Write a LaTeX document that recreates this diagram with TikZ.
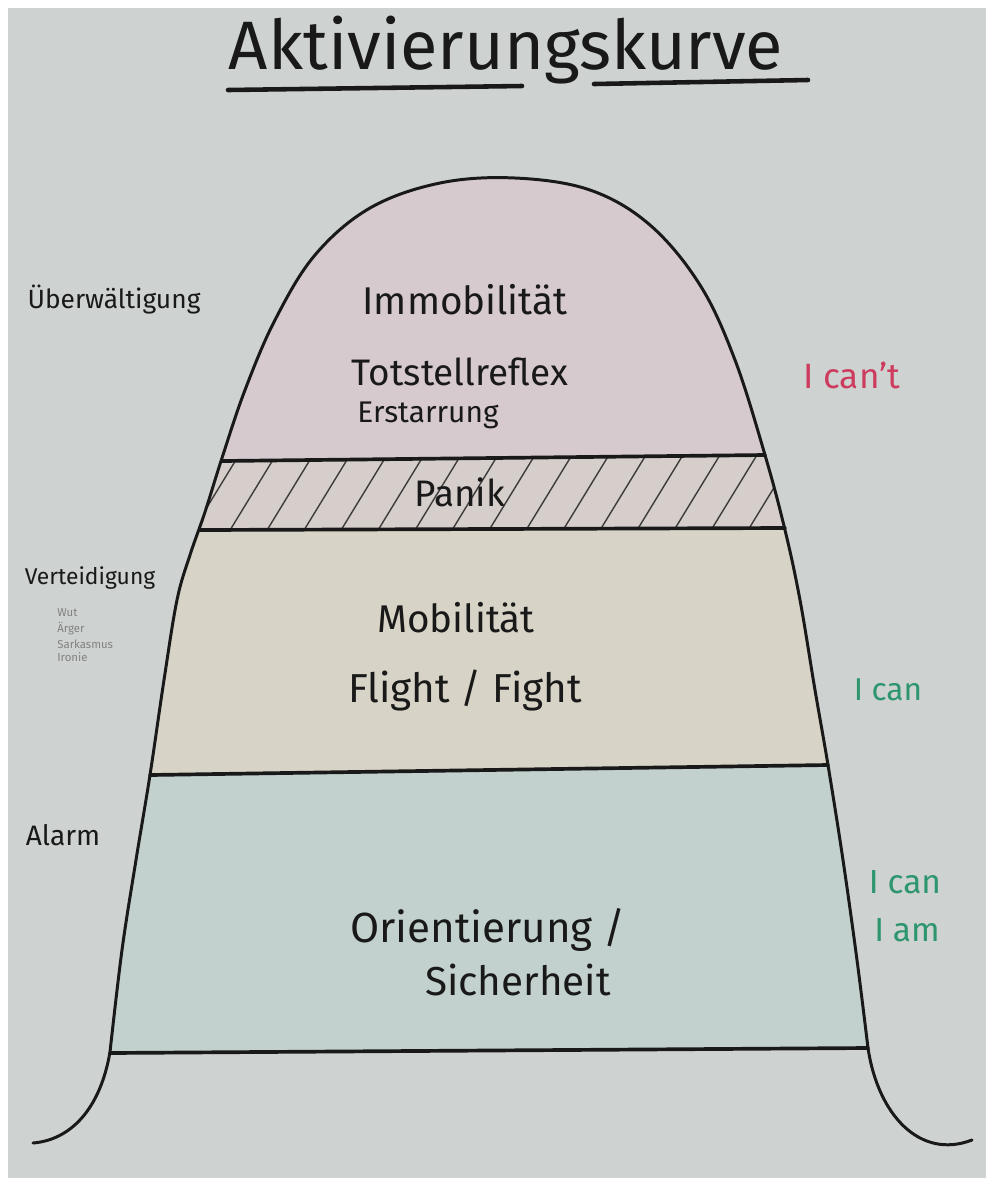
\documentclass[tikz,border=0pt]{standalone}
\usepackage{fontspec}
\setmainfont{Fira Sans}
\definecolor{paper}{RGB}{206,210,209}
\definecolor{pinkfill}{RGB}{214,202,206}
\definecolor{yellowfill}{RGB}{215,211,198}
\definecolor{greenfill}{RGB}{194,209,205}
\definecolor{panikfill}{RGB}{213,206,203}
\definecolor{ink}{RGB}{25,25,25}
\definecolor{redink}{RGB}{205,60,95}
\definecolor{greenink}{RGB}{45,150,110}
\newcommand\fs[1]{\fontsize{#1}{#1}\selectfont}
\newcommand\bellpath{plot[smooth,tension=0.6] coordinates {(110,1052) (122,950) (136,860) (150,775) (164,680) (177,600) (190,555) (205,512) (222,458) (245,390) (275,320) (315,255) (370,208) (440,183) (515,178) (590,190) (650,225) (700,285) (735,360) (765,455) (785,530) (800,600) (815,690) (828,765) (843,860) (857,960) (868,1048)}}
\tikzset{
  outline/.style={draw=ink, line width=1.7pt, line cap=round, line join=round},
  divider/.style={draw=ink, line width=2.1pt, line cap=round},
  hatch/.style={draw=ink!85, line width=0.8pt},
  lbl/.style={text=ink, inner sep=0pt, anchor=center},
}
\begin{document}
\begin{tikzpicture}[x=0.02cm, y=-0.02cm]
\useasboundingbox (0,0) rectangle (986,1178);
\fill[white] (0,0) rectangle (986,1178);
\fill[paper] (8,8) rectangle (986,1178);

% fills inside bell
\begin{scope}
  \clip \bellpath -- cycle;
  \fill[pinkfill] (0,0) -- (986,0) -- (986,455) -- (0,461) -- cycle;
  \fill[panikfill] (0,461) -- (986,455) -- (986,528) -- (0,530) -- cycle;
  \fill[yellowfill] (0,530) -- (986,528) -- (986,765) -- (0,775) -- cycle;
  \fill[greenfill] (0,775) -- (986,765) -- (986,1048) -- (0,1053) -- cycle;
  % hatching in the Panik band
  \clip (0,461) -- (986,455) -- (986,528) -- (0,530) -- cycle;
  \foreach \i in {0,...,19} {
    \draw[hatch] ({150+37*\i},540) -- ({150+37*\i+55},450);
  }
\end{scope}

% bell outline and tails
\draw[outline] \bellpath;
\draw[outline] (110,1052) .. controls (100,1110) and (70,1140) .. (33,1143);
\draw[outline] (868,1048) .. controls (878,1115) and (920,1160) .. (972,1140);

% horizontal dividers
\draw[divider] (222,461) -- (765,455);
\draw[divider] (200,530) -- (785,528);
\draw[divider] (150,775) -- (828,765);
\draw[divider] (110,1053) -- (868,1048);

% title
\node[lbl] (title) at (506,50) {\fs{39}Aktivierungskurve};
\draw[ink, line width=2.6pt, line cap=round] (228,90) -- (522,86);
\draw[ink, line width=2.6pt, line cap=round] (594,84) -- (808,80);

% centre texts
\node[lbl] (immo) at (465,300) {\fs{22}Immobilität};
\node[lbl] (tot) at (460,372) {\fs{21}Totstellreflex};
\node[lbl] (erst) at (428,415) {\fs{17}Erstarrung};
\node[lbl] (panik) at (460,492) {\fs{21}Panik};
\node[lbl] (mobi) at (456,618) {\fs{22}Mobilität};
\node[lbl] (flight) at (465,690) {\fs{23}Flight / Fight};
\node[lbl] (orient) at (488,930) {\fs{24}Orientierung /};
\node[lbl] (sicher) at (518,980) {\fs{23}Sicherheit};

% left labels
\node[lbl] (ueber) at (114,300) {\fs{15}Überwältigung};
\node[lbl] (vert) at (90,578) {\fs{13}Verteidigung};
\node[lbl, anchor=west, text=ink!55] (wut) at (57,613) {\fs{6.5}Wut};
\node[lbl, anchor=west, text=ink!55] (aerger) at (57,629) {\fs{6.5}Ärger};
\node[lbl, anchor=west, text=ink!55] (sark) at (57,644) {\fs{6.5}Sarkasmus};
\node[lbl, anchor=west, text=ink!55] (ironie) at (57,657) {\fs{6.5}Ironie};
\node[lbl] (alarm) at (63,835) {\fs{16}Alarm};

% right labels
\node[lbl, text=redink] (cant) at (852,375) {\fs{20}I can't};
\node[lbl, text=greenink] (can1) at (888,690) {\fs{18}I can};
\node[lbl, text=greenink] (can2) at (905,882) {\fs{19}I can};
\node[lbl, text=greenink] (am) at (907,930) {\fs{19}I am};
\end{tikzpicture}
\end{document}
